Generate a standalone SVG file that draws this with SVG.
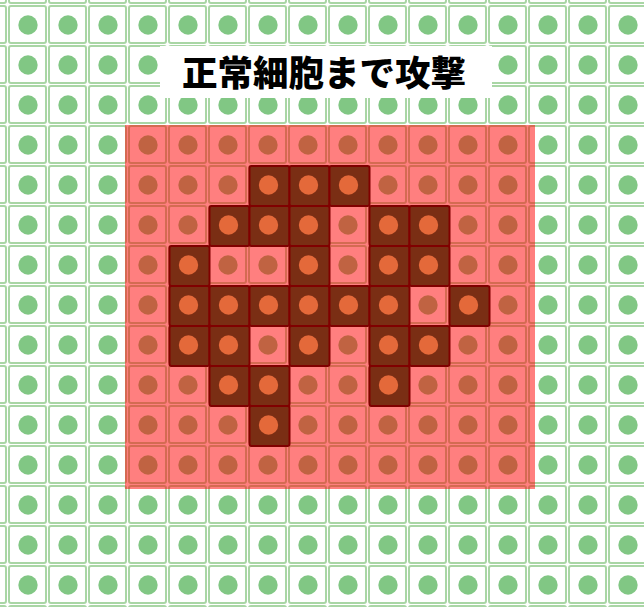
<svg xmlns="http://www.w3.org/2000/svg" xmlns:xlink="http://www.w3.org/1999/xlink" width="644" height="607" viewBox="0 0 644 607">
<style>
.title{font-family:"Noto Sans CJK JP","Noto Sans CJK SC",sans-serif;font-weight:900;font-size:35.5px;fill:#000}
</style>
<defs>
<pattern id="grid" patternUnits="userSpaceOnUse" x="8" y="5" width="40" height="40">
<rect x="1" y="1" width="37" height="37" rx="2" fill="#fff" stroke="#a9d6a5" stroke-width="2"/>
<circle cx="20" cy="20" r="9.7" fill="#81c784"/>
</pattern>
<g id="dcell"><rect x="0" y="0" width="40" height="40" rx="2" fill="#7a2e14" stroke="#800000" stroke-width="2"/><circle cx="19" cy="19" r="9.7" fill="#e4693a"/></g>
</defs>
<rect width="644" height="607" fill="#fff"/>
<rect id="cells" x="0" y="0" width="644" height="607" fill="url(#grid)"/>
<rect id="zone" x="125" y="125" width="410" height="364" fill="#ff0000" fill-opacity="0.5"/>
<g id="tumor">
<g id="r4c6"><use xlink:href="#dcell" x="249.5" y="166"/></g>
<g id="r4c7"><use xlink:href="#dcell" x="289.5" y="166"/></g>
<g id="r4c8"><use xlink:href="#dcell" x="329.5" y="166"/></g>
<g id="r5c5"><use xlink:href="#dcell" x="209.5" y="206"/></g>
<g id="r5c6"><use xlink:href="#dcell" x="249.5" y="206"/></g>
<g id="r5c7"><use xlink:href="#dcell" x="289.5" y="206"/></g>
<g id="r5c9"><use xlink:href="#dcell" x="369.5" y="206"/></g>
<g id="r5c10"><use xlink:href="#dcell" x="409.5" y="206"/></g>
<g id="r6c4"><use xlink:href="#dcell" x="169.5" y="246"/></g>
<g id="r6c7"><use xlink:href="#dcell" x="289.5" y="246"/></g>
<g id="r6c9"><use xlink:href="#dcell" x="369.5" y="246"/></g>
<g id="r6c10"><use xlink:href="#dcell" x="409.5" y="246"/></g>
<g id="r7c4"><use xlink:href="#dcell" x="169.5" y="286"/></g>
<g id="r7c5"><use xlink:href="#dcell" x="209.5" y="286"/></g>
<g id="r7c6"><use xlink:href="#dcell" x="249.5" y="286"/></g>
<g id="r7c7"><use xlink:href="#dcell" x="289.5" y="286"/></g>
<g id="r7c8"><use xlink:href="#dcell" x="329.5" y="286"/></g>
<g id="r7c9"><use xlink:href="#dcell" x="369.5" y="286"/></g>
<g id="r7c11"><use xlink:href="#dcell" x="449.5" y="286"/></g>
<g id="r8c4"><use xlink:href="#dcell" x="169.5" y="326"/></g>
<g id="r8c5"><use xlink:href="#dcell" x="209.5" y="326"/></g>
<g id="r8c7"><use xlink:href="#dcell" x="289.5" y="326"/></g>
<g id="r8c9"><use xlink:href="#dcell" x="369.5" y="326"/></g>
<g id="r8c10"><use xlink:href="#dcell" x="409.5" y="326"/></g>
<g id="r9c5"><use xlink:href="#dcell" x="209.5" y="366"/></g>
<g id="r9c6"><use xlink:href="#dcell" x="249.5" y="366"/></g>
<g id="r9c9"><use xlink:href="#dcell" x="369.5" y="366"/></g>
<g id="r10c6"><use xlink:href="#dcell" x="249.5" y="406"/></g>
</g>
<g id="label">
<rect x="160" y="46" width="332" height="52" fill="#fff"/>
<text class="title" x="324" y="70" text-anchor="middle" dominant-baseline="central">正常細胞まで攻撃</text>
</g>
</svg>
